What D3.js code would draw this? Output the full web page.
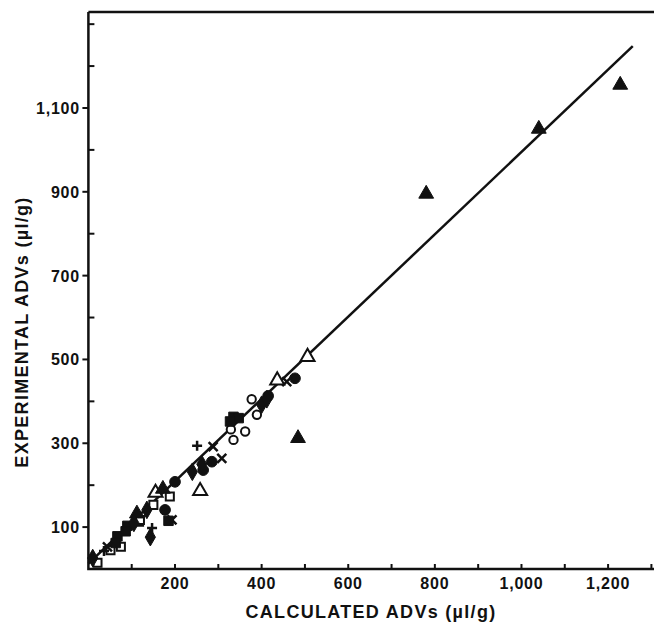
<!DOCTYPE html>
<html>
<head>
<meta charset="utf-8">
<script src="https://cdn.jsdelivr.net/npm/d3@7"></script>
<style>
  body { margin: 0; background: #fff; }
  text { font-family: "Liberation Sans", Arial, sans-serif; font-weight: bold; fill: #111; }
</style>
</head>
<body>
<svg id="chart" width="654" height="628"></svg>
<script>
// data: [calculated, experimental]
let triFilled = [[1228, 1155], [1040, 1050], [780, 895], [484, 312], [112, 132], [172, 191]];
let triOpen = [[506, 506], [436, 450], [258, 186], [155, 182]];
let circOpen = [[377, 405], [389, 368], [329, 333], [362, 328], [335, 308]];
let circFilled = [[477, 455], [415, 413], [200, 208], [177, 141], [285, 256], [265, 236]];
let sqFilled = [[335, 363], [347, 360], [327, 352], [185, 115], [90, 103], [67, 78], [86, 90], [63, 62]];
let sqOpen = [[21, 15], [51, 45], [75, 53], [117, 113], [150, 153], [188, 173], [119, 117]];
let diaFilled = [[10, 26], [143, 76], [400, 392], [412, 405], [240, 232], [262, 250], [105, 110], [135, 141]];
let plusPts = [[251, 294], [147, 98], [36, 43]];
let crossPts = [[458, 447], [288, 292], [308, 264], [193, 117], [44, 53]];

// regression line y = a*x + b
let fitA = 0.982, fitB = 13, fitEnd = 1257;

let xTicks = d3.range(100, 1301, 100);
let yTicks = d3.range(100, 1301, 100);
let xLabels = [200, 400, 600, 800, 1000, 1200];
let yLabels = [100, 300, 500, 700, 900, 1100];

let svg = d3.select('#chart');
let x = d3.scaleLinear().domain([0, 1306]).range([88.4, 654]);
let y = d3.scaleLinear().domain([0, 1329]).range([569, 12]);
let fmt = d3.format(',');

// frame: left, bottom and top lines
svg.append('path')
    .attr('d', `M${x(0)},${y(1329)}V${y(0)}H${x(1300) + 4}`)
    .attr('fill', 'none').attr('stroke', '#111').attr('stroke-width', 2.5);
svg.append('line')
    .attr('x1', x(0)).attr('x2', 654).attr('y1', y(1329)).attr('y2', y(1329))
    .attr('stroke', '#111').attr('stroke-width', 2.5);

// x ticks point up into the plot
svg.selectAll('.xt').data(xTicks).enter().append('line')
    .attr('class', 'xt')
    .attr('x1', d => x(d)).attr('x2', d => x(d))
    .attr('y1', y(0)).attr('y2', y(0) - 5)
    .attr('stroke', '#111').attr('stroke-width', 2);
svg.selectAll('.xl').data(xLabels).enter().append('text')
    .attr('class', 'xl')
    .attr('x', d => x(d)).attr('y', 589)
    .attr('text-anchor', 'middle').style('font-size', '16px')
    .style('letter-spacing', '0.8px')
    .text(d => fmt(d));

// y ticks: labelled ones outward, the others inward
svg.selectAll('.yt').data(yTicks).enter().append('line')
    .attr('class', 'yt')
    .attr('x1', x(0)).attr('y1', d => y(d)).attr('y2', d => y(d))
    .attr('x2', d => yLabels.includes(d) ? x(0) - 6 : x(0) + 6)
    .attr('stroke', '#111').attr('stroke-width', 2);
svg.selectAll('.yl').data(yLabels).enter().append('text')
    .attr('class', 'yl')
    .attr('x', 80).attr('y', d => y(d) + 6)
    .attr('text-anchor', 'end').style('font-size', '16px')
    .style('letter-spacing', '0.8px')
    .text(d => fmt(d));

// axis titles
svg.append('text')
    .attr('x', 371).attr('y', 618)
    .attr('text-anchor', 'middle').style('font-size', '18px')
    .style('letter-spacing', '1.3px')
    .text('CALCULATED ADVs (µl/g)');
svg.append('text')
    .attr('transform', 'translate(28, 332) rotate(-90)')
    .attr('text-anchor', 'middle').style('font-size', '18px')
    .style('letter-spacing', '1.3px')
    .text('EXPERIMENTAL ADVs (µl/g)');

// regression line
svg.append('line')
    .attr('x1', x(0)).attr('y1', y(fitB))
    .attr('x2', x(fitEnd)).attr('y2', y(fitA * fitEnd + fitB))
    .attr('stroke', '#111').attr('stroke-width', 2.5);

// markers
function drawSymbols(data, type, size, filled, cls) {
    svg.selectAll('.' + cls).data(data).enter().append('path')
        .attr('class', cls)
        .attr('transform', d => `translate(${x(d[0])},${y(d[1])})`)
        .attr('d', d3.symbol().type(type).size(size))
        .attr('fill', filled ? '#111' : '#fff')
        .attr('stroke', '#111')
        .attr('stroke-width', filled ? 1 : 2);
}
drawSymbols(triOpen, d3.symbolTriangle, 85, false, 'to');
drawSymbols(circOpen, d3.symbolCircle, 55, false, 'co');
drawSymbols(sqOpen, d3.symbolSquare, 65, false, 'so');
drawSymbols(triFilled, d3.symbolTriangle, 95, true, 'tf');
drawSymbols(circFilled, d3.symbolCircle, 90, true, 'cf');
drawSymbols(sqFilled, d3.symbolSquare, 90, true, 'sf');
drawSymbols(diaFilled, d3.symbolDiamond, 90, true, 'df');

svg.selectAll('.pl').data(plusPts).enter().append('path')
    .attr('class', 'pl')
    .attr('transform', d => `translate(${x(d[0])},${y(d[1])})`)
    .attr('d', 'M-5,0H5M0,-5V5')
    .attr('stroke', '#111').attr('stroke-width', 2.5);
svg.selectAll('.cr').data(crossPts).enter().append('path')
    .attr('class', 'cr')
    .attr('transform', d => `translate(${x(d[0])},${y(d[1])})`)
    .attr('d', 'M-4.5,-4.5L4.5,4.5M-4.5,4.5L4.5,-4.5')
    .attr('stroke', '#111').attr('stroke-width', 2.5);
</script>
</body>
</html>
